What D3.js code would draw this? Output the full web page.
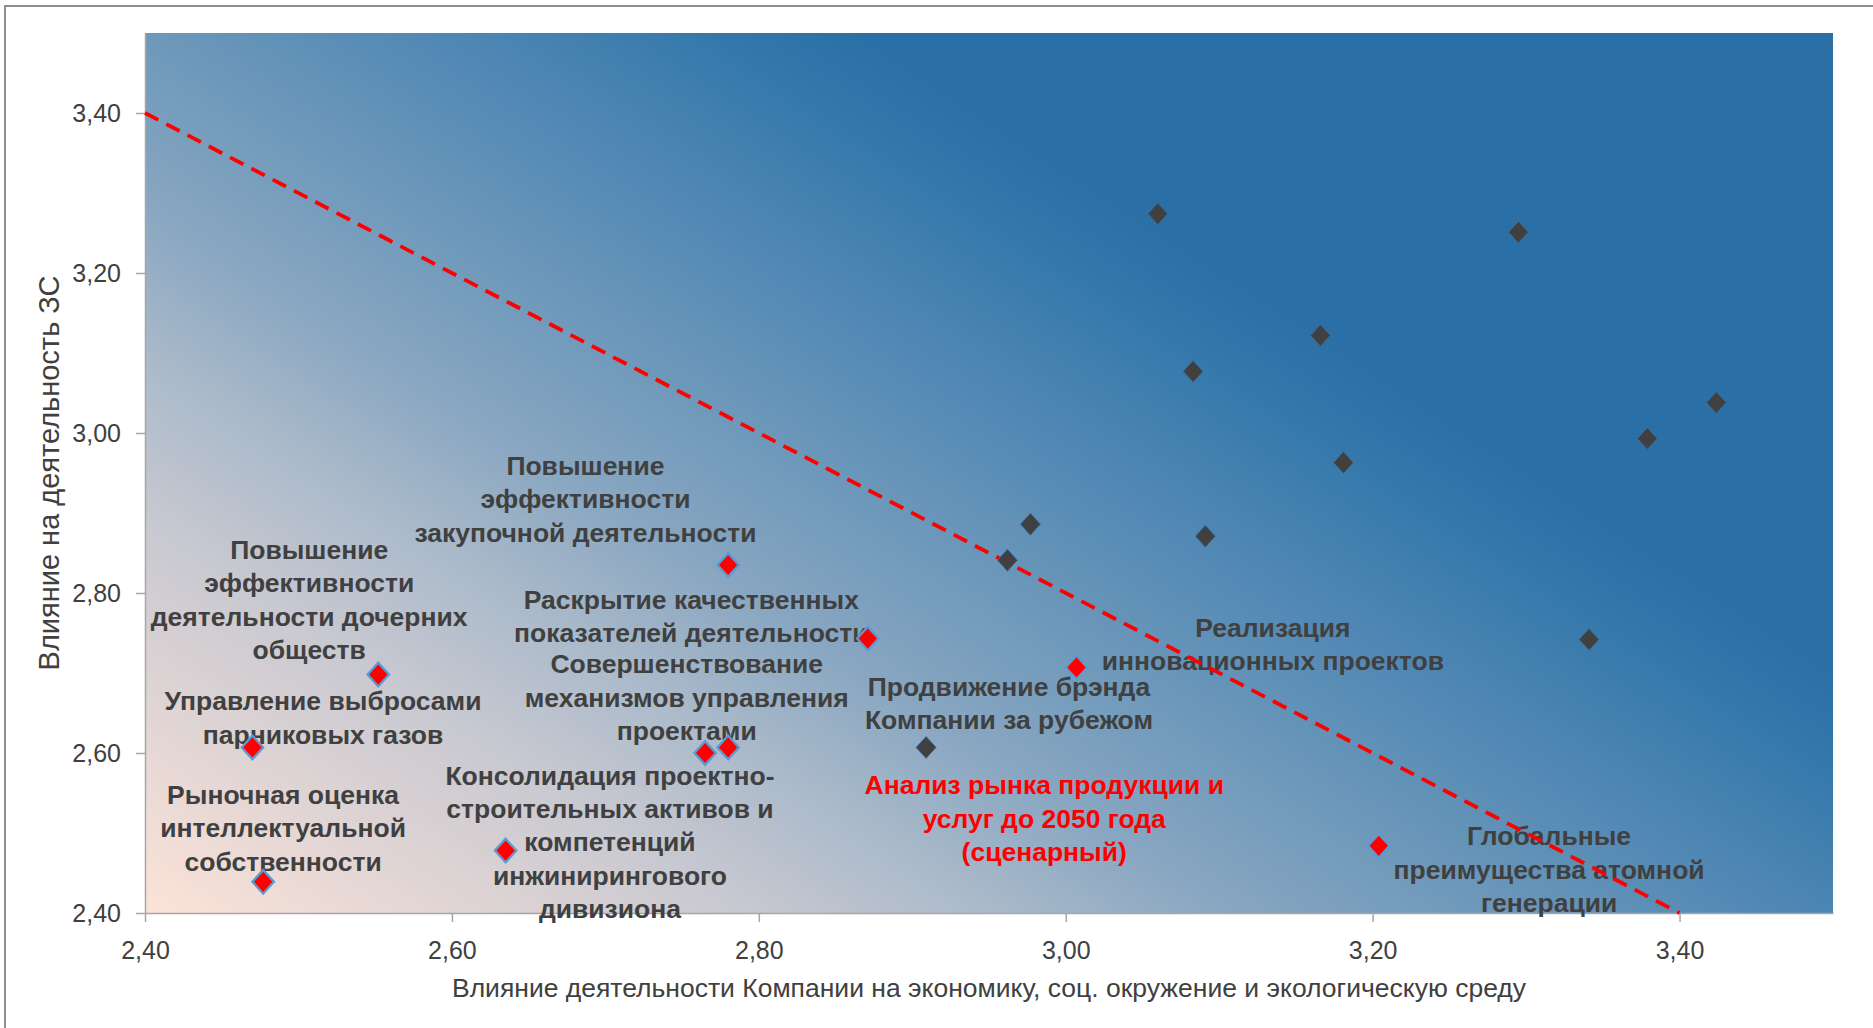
<!DOCTYPE html>
<html>
<head>
<meta charset="utf-8">
<script src="https://cdn.jsdelivr.net/npm/d3@7"></script>
<style>
  body { margin: 0; background: #fff; }
  svg { display: block; font-family: "Liberation Sans", Arial, sans-serif; }
</style>
</head>
<body>
<svg width="1873" height="1028"></svg>
<script>
// data
// ----------------------------------
var xTicks = [2.40, 2.60, 2.80, 3.00, 3.20, 3.40];
var yTicks = [2.40, 2.60, 2.80, 3.00, 3.20, 3.40];

// projects outside the priority zone (dark markers)
var darkX = [3.060, 3.295, 3.166, 3.083, 3.424, 3.379, 3.181, 2.977, 3.091, 2.962, 3.341, 2.909];
var darkY = [3.274, 3.251, 3.122, 3.077, 3.038, 2.993, 2.963, 2.886, 2.871, 2.841, 2.742, 2.607];

// labelled projects (red markers)
var redX = [2.780, 2.871, 2.552, 3.007, 2.470, 2.765, 2.780, 2.635, 2.477, 3.204];
var redY = [2.835, 2.743, 2.698, 2.707, 2.607, 2.600, 2.607, 2.478, 2.439, 2.484];

// boundary line
var lineX = [2.40, 3.40];
var lineY = [3.40, 2.40];

var labelLines = [
    ['Повышение', 'эффективности', 'закупочной деятельности'],
    ['Повышение', 'эффективности', 'деятельности дочерних', 'обществ'],
    ['Раскрытие качественных', 'показателей деятельности'],
    ['Совершенствование', 'механизмов управления', 'проектами'],
    ['Управление выбросами', 'парниковых газов'],
    ['Рыночная оценка', 'интеллектуальной', 'собственности'],
    ['Консолидация проектно-', 'строительных активов и', 'компетенций', 'инжинирингового', 'дивизиона'],
    ['Продвижение брэнда', 'Компании за рубежом'],
    ['Реализация', 'инновационных проектов'],
    ['Анализ рынка продукции и', 'услуг до 2050 года', '(сценарный)'],
    ['Глобальные', 'преимущества атомной', 'генерации']
];
// label anchors in data units (centre of the first line)
var labelX = [2.687, 2.507, 2.756, 2.753, 2.516, 2.490, 2.703, 2.963, 3.135, 2.986, 3.315];
var labelY = [2.959, 2.854, 2.792, 2.711, 2.665, 2.548, 2.572, 2.683, 2.757, 2.560, 2.496];
var highlightLabel = 9;

var xTitle = 'Влияние деятельности Компании на экономику, соц. окружение и экологическую среду';
var yTitle = 'Влияние на деятельность ЗС';

// 0. setup
// ----------------------------------
var svg = d3.select('svg');
var plot = { left: 145, top: 33, right: 1833, bottom: 913 };

var x = d3.scaleLinear().domain([2.4, 3.5]).range([plot.left, plot.right]);
var y = d3.scaleLinear().domain([2.4, 3.5]).range([plot.bottom, plot.top]);
var fmt = d => d3.format('.2f')(d).replace('.', ',');

// outer frame
svg.append('rect')
    .attr('x', 5).attr('y', 6)
    .attr('width', 1900).attr('height', 1060)
    .style('fill', 'none')
    .style('stroke', '#8e8e8e')
    .style('stroke-width', 2);

// 1. background gradient
// ----------------------------------
var ang = Math.atan(1.53);
var glen = 1660;
var grad = svg.append('defs').append('linearGradient')
    .attr('id', 'bg-grad')
    .attr('gradientUnits', 'userSpaceOnUse')
    .attr('x1', plot.left).attr('y1', plot.bottom)
    .attr('x2', plot.left + glen * Math.cos(ang))
    .attr('y2', plot.bottom - glen * Math.sin(ang));

[[0, '#fce3d8'], [0.195, '#c9c9d1'], [0.278, '#abbaca'], [0.36, '#88a6c1'],
 [0.445, '#6d98ba'], [0.556, '#4b85b3'], [0.63, '#3478ab'], [0.68, '#2a70a6'], [1, '#2a6fa5']]
    .forEach(s => grad.append('stop').attr('offset', s[0]).attr('stop-color', s[1]));

svg.append('rect')
    .attr('x', plot.left).attr('y', plot.top)
    .attr('width', plot.right - plot.left)
    .attr('height', plot.bottom - plot.top)
    .style('fill', 'url(#bg-grad)');

// 2. axes
// ----------------------------------
var xAxis = svg.append('g')
    .attr('transform', 'translate(0,' + plot.bottom + ')')
    .call(d3.axisBottom(x).tickValues(xTicks).tickFormat(fmt)
        .tickSize(9).tickSizeOuter(0).tickPadding(19));

var yAxis = svg.append('g')
    .attr('transform', 'translate(' + plot.left + ',0)')
    .call(d3.axisLeft(y).tickValues(yTicks).tickFormat(fmt)
        .tickSize(9).tickSizeOuter(0).tickPadding(15));

[xAxis, yAxis].forEach(function (a) {
    a.select('.domain').style('stroke', '#a6a6a6').style('stroke-width', 1.5);
    a.selectAll('.tick line').style('stroke', '#a6a6a6').style('stroke-width', 1.5);
    a.selectAll('.tick text')
        .style('font-size', '25px')
        .style('fill', '#404040')
        .style('font-family', '"Liberation Sans", Arial, sans-serif');
});

svg.append('text')
    .attr('x', (plot.left + plot.right) / 2)
    .attr('y', 997)
    .attr('text-anchor', 'middle')
    .style('font-size', '26.5px')
    .style('fill', '#404040')
    .text(xTitle);

svg.append('text')
    .attr('transform', 'translate(59,' + (plot.top + plot.bottom) / 2 + ') rotate(-90)')
    .attr('text-anchor', 'middle')
    .style('font-size', '29px')
    .style('fill', '#404040')
    .text(yTitle);

// 3. labels, line, markers
// ----------------------------------
var labels = svg.append('g').selectAll('text')
    .data(labelLines)
    .enter()
    .append('text')
    .attr('text-anchor', 'middle')
    .style('font-size', '26.5px')
    .style('font-weight', 'bold')
    .style('fill', (d, i) => i === highlightLabel ? '#ff0000' : '#404040');

labels.selectAll('tspan')
    .data((d, i) => d.map((t, j) => ({ t: t, j: j, i: i })))
    .enter()
    .append('tspan')
    .attr('x', d => x(labelX[d.i]))
    .attr('y', d => y(labelY[d.i]) + d.j * 33.4)
    .attr('dy', '0.35em')
    .text(d => d.t);

svg.append('line')
    .attr('x1', x(lineX[0])).attr('y1', y(lineY[0]))
    .attr('x2', x(lineX[1])).attr('y2', y(lineY[1]))
    .style('stroke', '#ff0000')
    .style('stroke-width', 3.8)
    .style('stroke-dasharray', '15,9');

var diamond = d3.symbol().type(d3.symbolSquare);

svg.append('g').selectAll('path')
    .data(darkX)
    .enter()
    .append('path')
    .attr('d', diamond.size(200)())
    .attr('transform', (d, i) => 'translate(' + x(d) + ',' + y(darkY[i]) + ') scale(1,1.1) rotate(45)')
    .style('fill', '#404040')
    .style('stroke', '#3b6f9e')
    .style('stroke-width', 0.8);

svg.append('g').selectAll('path')
    .data(redX)
    .enter()
    .append('path')
    .attr('d', diamond.size(230)())
    .attr('transform', (d, i) => 'translate(' + x(d) + ',' + y(redY[i]) + ') scale(1,1.1) rotate(45)')
    .style('fill', '#ff0000')
    .style('stroke', '#5b9bd5')
    .style('stroke-width', 2.2);
</script>
</body>
</html>
